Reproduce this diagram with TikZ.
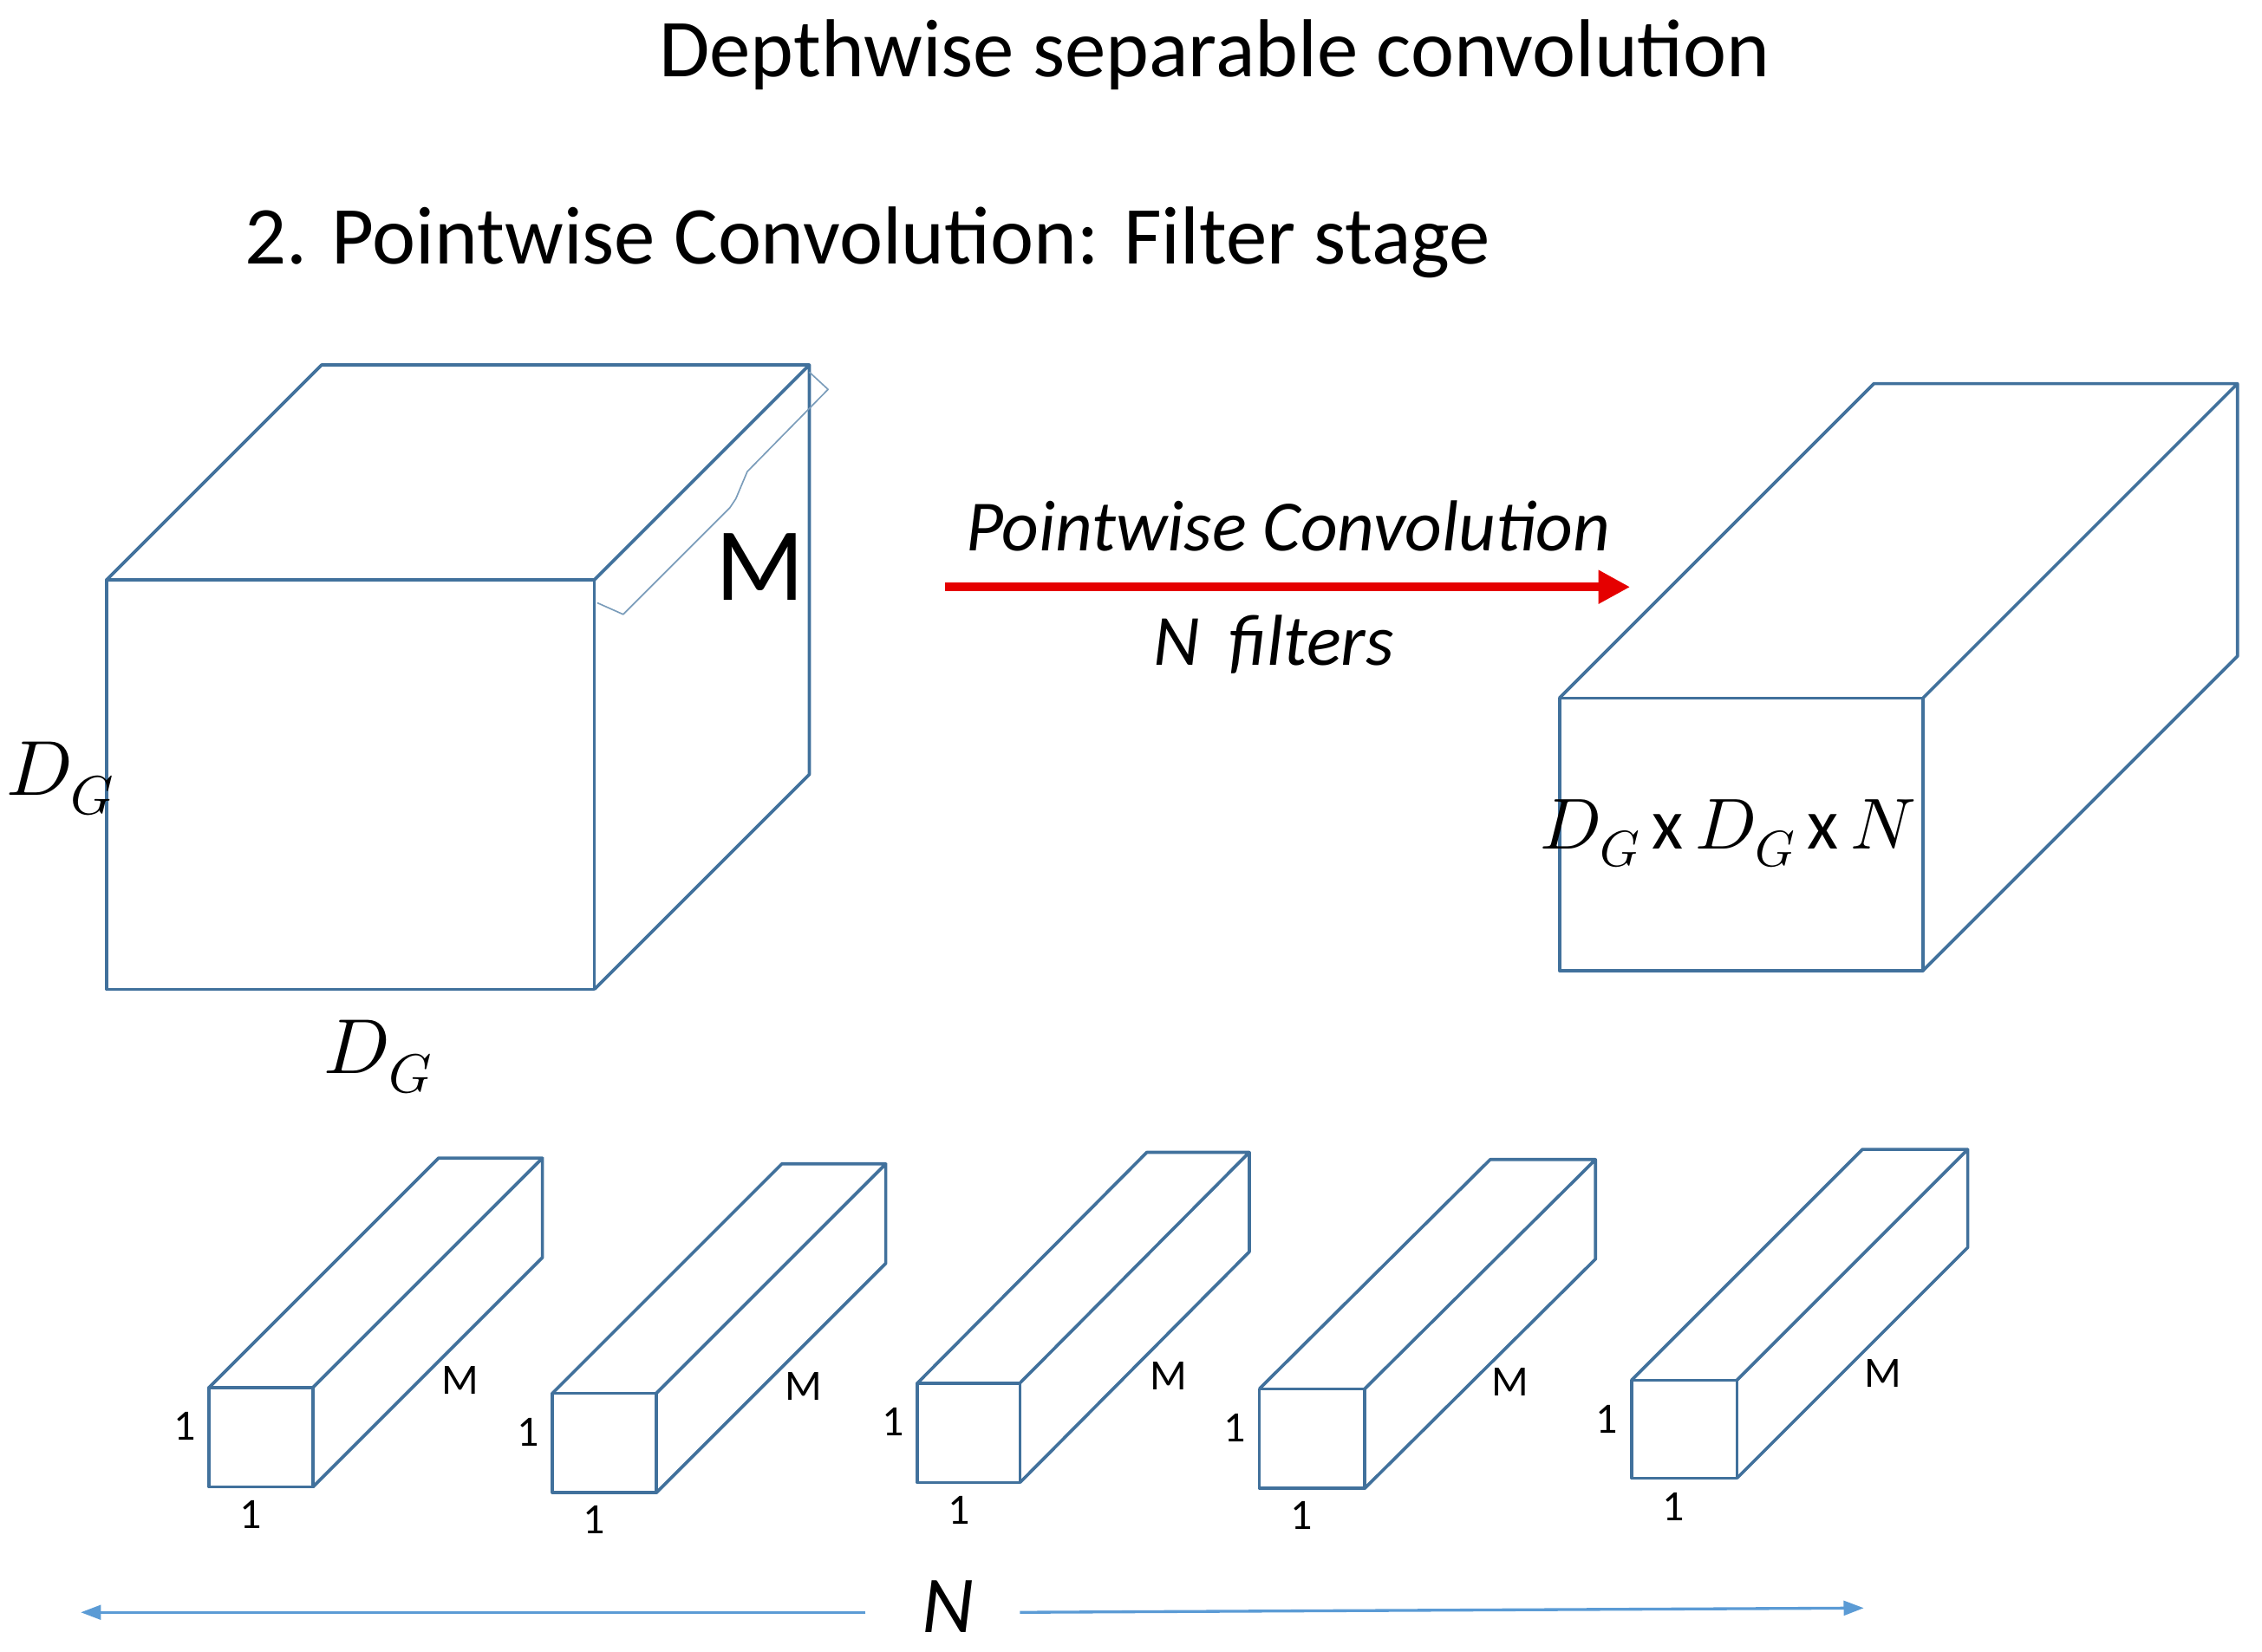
\documentclass[tikz,border=0pt]{standalone}
\usepackage{fontspec}
\usepackage{unicode-math}
\setmainfont{Carlito}
\setmathfont{Latin Modern Math}
\usetikzlibrary{arrows.meta}
\definecolor{boxc}{RGB}{65,113,156}
\definecolor{arrc}{RGB}{91,155,213}
\newcommand\mycuboid[7]{% x1 y1 x2 y2 dx dy(neg) name
  \draw[box] (#1,#2) rectangle (#3,#4);
  \draw[box] (#1,#2) -- (#1+#5,#2-#6) -- (#3+#5,#2-#6) -- (#3,#2)
             (#3+#5,#2-#6) -- (#3+#5,#4-#6) -- (#3,#4);
  \coordinate (#7) at (#1,#2);
}
\tikzset{box/.style={draw=boxc,line width=2.2pt,line join=round},
  fs/.style={font=\fontsize{#1}{#1}\selectfont},
  sm/.style={fs=30,inner sep=0pt}}
\begin{document}
\begin{tikzpicture}[x=1pt,y=-1pt]
\useasboundingbox (0,0) rectangle (1568,1145);
\node[fs=57] (t1) at (842,38) {Depthwise separable convolution};
\node[fs=57,anchor=west] (t2) at (166,168) {2. Pointwise Convolution: Filter stage};
% big cube
\mycuboid{74}{402}{412}{686}{149}{149}{c1}
\draw[boxc!70,line width=1pt,line join=round] (561,258) -- (574,270) -- (518,327) -- (510,346) -- (506,352) -- (432,426) -- (414,418);
\node[fs=72] (m) at (527,393) {M};
\node[fs=54] (dg1) at (42,540) {$D_G$};
\node[fs=54] (dg2) at (262,733) {$D_G$};
% right box
\mycuboid{1081}{484}{1333}{673}{218}{218}{c2}
\node[fs=50] (dgn) at (1198,578) {$D_G$\,x\,$D_G$\,x\,$N$};
% arrow
\coordinate (a1) at (655,407); \coordinate (a2) at (1130,407);
\draw[red!90!black,line width=6pt,-{Triangle[length=22pt,width=22pt]}] (a1) -- (a2);
\node[fs=50] (pc) at (893,365) {\itshape Pointwise Convolution};
\node[fs=50] (nf) at (883,447) {\itshape N\, filters};
% bars
\mycuboid{145}{962}{217}{1031}{159}{159}{b1}
\mycuboid{383}{966}{455}{1035}{159}{159}{b2}
\mycuboid{636}{959}{707}{1028}{159}{160}{b3}
\mycuboid{873}{963}{946}{1032}{160}{159}{b4}
\mycuboid{1131}{957}{1204}{1025}{160}{160}{b5}
\foreach \x/\y/\n in {145/962/1,383/966/2,636/959/3,873/963/4,1131/957/5}{
  \node[sm] (l\n) at (\x-17,\y+27) {1};
  \node[sm] (d\n) at (\x+29,\y+88) {1};
  \node[sm] (m\n) at (\x+174,\y-5) {M};
}
% bottom arrows
\node[fs=56] (nn) at (657,1114) {\itshape N};
\coordinate (p1) at (600,1118); \coordinate (p2) at (56,1118);
\coordinate (p3) at (707,1118); \coordinate (p4) at (1292,1115);
\draw[arrc,line width=2pt,-{Triangle[length=14pt,width=10pt]}] (p1) -- (p2);
\draw[arrc,line width=2pt,-{Triangle[length=14pt,width=10pt]}] (p3) -- (p4);
\end{tikzpicture}
\end{document}
